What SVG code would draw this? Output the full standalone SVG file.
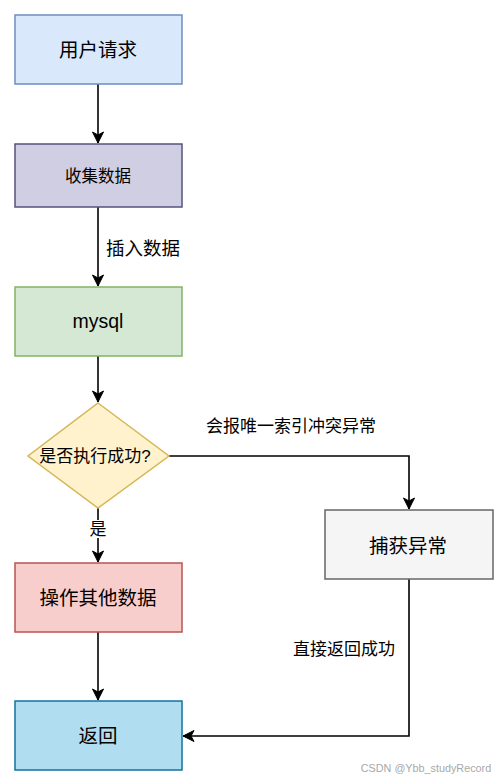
<svg xmlns="http://www.w3.org/2000/svg" width="504" height="783" viewBox="0 0 504 783">
<defs>
<marker id="arr" markerUnits="userSpaceOnUse" markerWidth="14" markerHeight="14" viewBox="0 0 14 14" refX="12" refY="7" orient="auto">
<path d="M1,1.5 L12,7 L1,12.5 L4,7 Z" fill="#000" stroke="#000" stroke-width="1"/>
</marker>
</defs>
<style>
text{font-family:"Liberation Sans","Noto Sans CJK SC",sans-serif;fill:#000;text-anchor:middle;dominant-baseline:central}
.n{stroke-width:1.5}
.c{fill:none;stroke:#000;stroke-width:1.6;marker-end:url(#arr)}
.big{font-size:19.5px}
.lbl{font-size:17px}
</style>
<rect width="504" height="783" fill="#fff"/>
<g id="connectors">
<path class="c" d="M98,84 V143"/>
<path class="c" d="M98,207 V286"/>
<path class="c" d="M98,356 V402"/>
<path class="c" d="M98,508 V562"/>
<path class="c" d="M98,632 V700"/>
<path class="c" d="M169,456 H409 V509"/>
<path class="c" d="M409,579 V736 H183"/>
<rect x="90" y="520" width="16" height="18" fill="#fff"/>
<text class="lbl" x="98" y="529">是</text>
<text class="lbl" x="143" y="248" style="font-size:18.5px">插入数据</text>
<text class="lbl" x="291" y="426">会报唯一索引冲突异常</text>
<text class="lbl" x="344" y="649">直接返回成功</text>
</g>
<g id="n1"><rect class="n" x="15" y="15" width="167" height="69" fill="#dae8fc" stroke="#6c8ebf"/><text class="big" x="98" y="50">用户请求</text></g>
<g id="n2"><rect class="n" x="15" y="144" width="167" height="63" fill="#d0cee2" stroke="#56517e"/><text x="98" y="176" style="font-size:16.5px">收集数据</text></g>
<g id="n3"><rect class="n" x="15" y="287" width="167" height="69" fill="#d5e8d4" stroke="#82b366"/><text class="big" x="98" y="321">mysql</text></g>
<g id="n4"><path class="n" d="M98,403 L169,456 L98,508 L28,456 Z" fill="#fff2cc" stroke="#d6b656"/><text class="lbl" x="95" y="456">是否执行成功?</text></g>
<g id="n5"><rect class="n" x="325" y="510" width="168" height="69" fill="#f5f5f5" stroke="#666666"/><text class="big" x="408" y="546" fill="#333">捕获异常</text></g>
<g id="n6"><rect class="n" x="15" y="563" width="167" height="69" fill="#f8cecc" stroke="#b85450"/><text class="big" x="98" y="598">操作其他数据</text></g>
<g id="n7"><rect class="n" x="15" y="701" width="167" height="69" fill="#b1ddf0" stroke="#10739e"/><text class="big" x="98" y="736">返回</text></g>
<text x="426" y="768" style="font-size:10.8px;fill:#a8a8a8">CSDN @Ybb_studyRecord</text>
</svg>
